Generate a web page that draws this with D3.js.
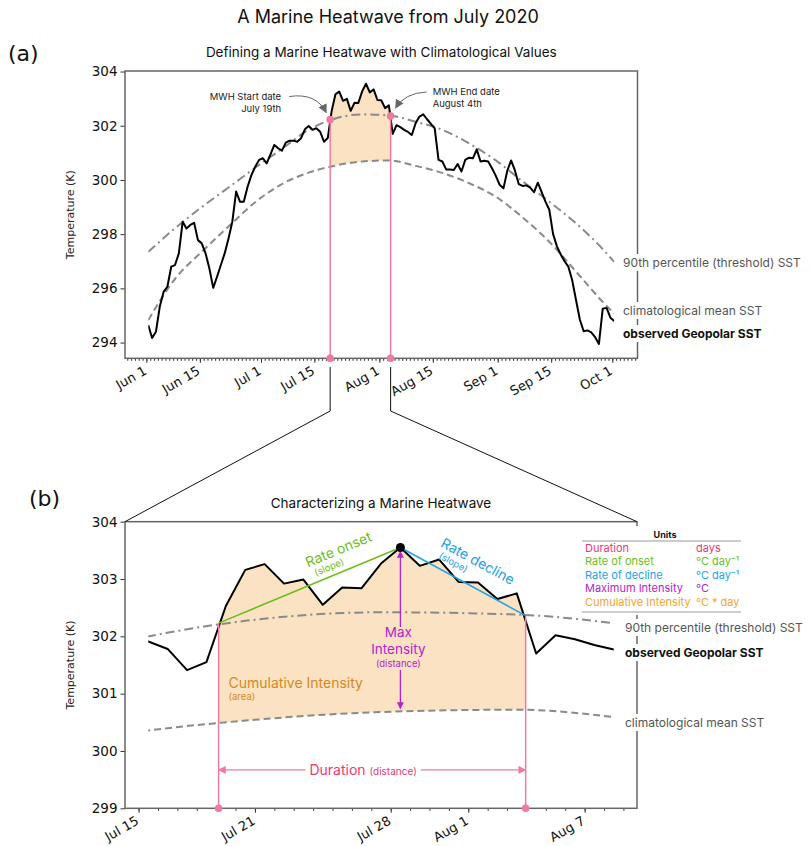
<!DOCTYPE html>
<html>
<head>
<meta charset="utf-8">
<script src="https://cdn.jsdelivr.net/npm/d3@7"></script>
<style>
  body { margin: 0; background: #fff; }
  text { font-family: Inter, "Noto Sans", sans-serif; }
  .mpl text, text.mpl { font-family: "DejaVu Sans", sans-serif; }
</style>
</head>
<body>
<div id="chart"></div>
<script>
// ---- data ----
// daily observed SST (K), noon values starting 1 June 2020
const obsStart = new Date(2020, 5, 1, 12);
const observed = [
  294.64, 294.17, 294.40, 295.32, 295.87, 296.06, 296.80, 296.86, 297.29, 298.46,
  298.21, 298.34, 298.42, 297.78, 297.66, 297.29, 296.73, 296.02, 296.43, 296.86,
  297.29, 297.84, 298.46, 299.57, 299.20, 299.20, 299.75, 300.18, 300.49, 300.74,
  300.80, 300.61, 300.94, 301.29, 301.17, 301.08, 301.38, 301.45, 301.45, 301.41,
  301.54, 301.87, 301.99, 301.85, 301.91, 301.78, 301.41, 301.55, 302.53, 303.16,
  303.26, 302.92, 302.99, 302.55, 302.85, 302.84, 303.27, 303.55, 303.23, 303.34,
  302.95, 302.94, 302.65, 302.75, 301.70, 302.02, 301.95, 301.85, 301.77, 301.66,
  302.09, 302.34, 302.42, 302.24, 302.07, 301.90, 300.74, 300.68, 300.39, 300.39,
  300.37, 300.59, 300.31, 300.74, 300.82, 300.80, 301.13, 300.68, 300.71, 300.68,
  300.43, 300.15, 299.82, 299.69, 300.34, 300.72, 300.35, 299.85, 299.78, 299.80,
  299.72, 299.55, 299.90, 299.55, 299.20, 298.90, 298.00, 297.55, 297.25, 297.00,
  296.80, 296.30, 295.57, 294.85, 294.42, 294.45, 294.38, 294.20, 293.95, 295.25,
  295.28, 294.92, 294.80
];

// climatology and 90th percentile threshold (K), weekly
const climDates = [
  "2020-06-01", "2020-06-08", "2020-06-15", "2020-06-22", "2020-06-29", "2020-07-06",
  "2020-07-13", "2020-07-20", "2020-07-27", "2020-08-03", "2020-08-10", "2020-08-17",
  "2020-08-24", "2020-08-31", "2020-09-07", "2020-09-14", "2020-09-21", "2020-09-28",
  "2020-10-01"
];
const climValues = [
  294.83, 296.35, 297.35, 298.28, 299.18, 299.85, 300.27, 300.53, 300.68, 300.72,
  300.52, 300.26, 299.88, 299.38, 298.62, 297.72, 296.62, 295.50, 295.07
];
const threshValues = [
  297.35, 298.22, 299.00, 299.72, 300.45, 301.15, 301.85, 302.27, 302.42, 302.38,
  302.15, 301.85, 301.35, 300.72, 299.95, 299.20, 298.40, 297.45, 296.98
];

// heatwave event (threshold crossings)
const eventStart = new Date(2020, 6, 19, 3);
const eventEnd = new Date(2020, 7, 3, 23);
const startValue = 302.23;
const endValue = 302.36;
const climAtMax = 300.74;
const durationLevel = 299.67;

// zoomed window of panel (b)
const zoomFirst = new Date(2020, 6, 15, 12);
const zoomLast = new Date(2020, 7, 8, 12);

// ticks
const topTicks = ["2020-06-01", "2020-06-15", "2020-07-01", "2020-07-15", "2020-08-01",
  "2020-08-15", "2020-09-01", "2020-09-15", "2020-10-01"];
const zoomTicks = ["2020-07-15", "2020-07-21", "2020-07-28", "2020-08-01", "2020-08-07"];
const topYTicks = [294, 296, 298, 300, 302, 304];
const zoomYTicks = [299, 300, 301, 302, 303, 304];
const topYDomain = [293.42, 304.02];
const zoomYDomain = [299, 304];

const unitRows = [
  ["Duration", "days", "#ec3a74"],
  ["Rate of onset", "°C day⁻¹", "#6cbd1c"],
  ["Rate of decline", "°C day⁻¹", "#1ea3e6"],
  ["Maximum Intensity", "°C", "#b325cc"],
  ["Cumulative Intensity", "°C * day", "#f5a42c"]
];

// ---- helpers ----
const parse = d3.timeParse("%Y-%m-%d");
const obs = observed.map((v, i) => ({ date: d3.timeDay.offset(obsStart, i), value: v }));
const clim = climDates.map((d, i) => ({ date: d3.timeHour.offset(parse(d), 12), value: climValues[i] }));
const thresh = climDates.map((d, i) => ({ date: d3.timeHour.offset(parse(d), 12), value: threshValues[i] }));
const maxIdx = d3.maxIndex(observed);
const maxPoint = obs[maxIdx];

const COL = {
  spine: "#666", obs: "#000", ref: "#8a8a8a", fill: "#fae2c3",
  pinkLine: "#f27aa1", pinkText: "#ec3a74", green: "#6cbd1c", blue: "#1ea3e6",
  purple: "#b325cc", cumul: "#d28a1e", label: "#555"
};

const svg = d3.select("#chart").append("svg")
  .attr("width", 811).attr("height", 846);

const defs = svg.append("defs");
function marker(id, color, size) {
  defs.append("marker")
    .attr("id", id)
    .attr("viewBox", "0 0 10 10")
    .attr("refX", 9).attr("refY", 5)
    .attr("markerWidth", size).attr("markerHeight", size)
    .attr("markerUnits", "userSpaceOnUse")
    .attr("orient", "auto-start-reverse")
    .append("path").attr("d", "M0,0 L10,5 L0,10 z").attr("fill", color);
}
marker("arrGrey", "#666", 9);
marker("arrPink", COL.pinkLine, 8);
marker("arrPurple", COL.purple, 7);

function labelWithBg(g, x, y, txt, opts) {
  const t = g.append("text")
    .attr("x", x).attr("y", y)
    .attr("font-size", opts.size || 12)
    .attr("font-weight", opts.weight || 400)
    .attr("fill", opts.color || "#222")
    .attr("text-anchor", opts.anchor || "start")
    .text(txt);
  const b = t.node().getBBox();
  g.insert("rect", () => t.node())
    .attr("x", b.x - 3).attr("y", b.y - 1)
    .attr("width", b.width + 6).attr("height", b.height + 2)
    .attr("fill", opts.bg || "#fff");
  return t;
}

// draws frame, axes and the three series; returns scales
function drawPanel(cfg) {
  const g = svg.append("g");
  const span = cfg.last - cfg.first;
  const x = d3.scaleTime()
    .domain([new Date(+cfg.first - span * 0.05), new Date(+cfg.last + span * 0.05)])
    .range([cfg.x0, cfg.x1]);
  const y = d3.scaleLinear().domain(cfg.yDomain).range([cfg.y1, cfg.y0]);

  const clipId = "clip" + cfg.id;
  defs.append("clipPath").attr("id", clipId).append("rect")
    .attr("x", x(cfg.first)).attr("y", cfg.y0)
    .attr("width", x(cfg.last) - x(cfg.first)).attr("height", cfg.y1 - cfg.y0);
  const fillClip = "fill" + cfg.id;
  defs.append("clipPath").attr("id", fillClip).append("rect")
    .attr("x", x(eventStart)).attr("y", cfg.y0)
    .attr("width", x(eventEnd) - x(eventStart)).attr("height", cfg.y1 - cfg.y0);

  const line = d3.line().x(d => x(d.date)).y(d => y(d.value));
  const smooth = d3.line().x(d => x(d.date)).y(d => y(d.value)).curve(d3.curveMonotoneX);

  // heatwave fill between observed and climatology
  const obsPath = line(obs);
  const climBack = smooth(clim.slice().reverse()).replace(/^M/, "L");
  g.append("path")
    .attr("clip-path", `url(#${fillClip})`)
    .attr("d", obsPath + climBack + "Z")
    .attr("fill", COL.fill);

  const series = g.append("g").attr("clip-path", `url(#${clipId})`);
  series.append("path").attr("d", smooth(thresh))
    .attr("fill", "none").attr("stroke", COL.ref).attr("stroke-width", 2)
    .attr("stroke-dasharray", "9,4,2,4");
  series.append("path").attr("d", smooth(clim))
    .attr("fill", "none").attr("stroke", COL.ref).attr("stroke-width", 2)
    .attr("stroke-dasharray", "7,4");
  series.append("path").attr("d", line(obs))
    .attr("fill", "none").attr("stroke", COL.obs).attr("stroke-width", 2)
    .attr("stroke-linejoin", "round");

  // axes
  const fmt = d3.timeFormat("%b %-d");
  const xMinor = g.append("g").attr("transform", `translate(0,${cfg.y1})`)
    .call(d3.axisBottom(x).ticks(d3.timeDay.every(1)).tickSize(2.5).tickFormat(""));
  const xMajor = g.append("g").attr("class", "mpl").attr("transform", `translate(0,${cfg.y1})`)
    .call(d3.axisBottom(x).tickValues(cfg.ticks.map(parse)).tickSize(4.5).tickFormat(fmt));
  [xMinor, xMajor].forEach(a => {
    a.select(".domain").remove();
    a.selectAll("line").attr("stroke", "#333").attr("stroke-width", 1);
  });
  xMajor.selectAll("text")
    .attr("font-size", 13).attr("fill", "#111")
    .attr("text-anchor", "end")
    .attr("y", 0).attr("dy", "0.72em")
    .attr("transform", "translate(-4,7) rotate(-30)");

  const yAx = g.append("g").attr("class", "mpl").attr("transform", `translate(${cfg.x0},0)`)
    .call(d3.axisLeft(y).tickValues(cfg.yTicks).tickSize(4.5).tickPadding(3).tickFormat(d3.format("d")));
  yAx.select(".domain").remove();
  yAx.selectAll("line").attr("stroke", "#333");
  yAx.selectAll("text").attr("font-size", 13.5).attr("fill", "#111");

  g.append("text").attr("class", "mpl")
    .attr("transform", `translate(${cfg.x0 - 51},${(cfg.y0 + cfg.y1) / 2}) rotate(-90)`)
    .attr("text-anchor", "middle")
    .attr("font-size", 11).attr("fill", "#222")
    .text("Temperature (K)");

  // frame
  g.append("rect")
    .attr("x", cfg.x0).attr("y", cfg.y0)
    .attr("width", cfg.x1 - cfg.x0).attr("height", cfg.y1 - cfg.y0)
    .attr("fill", "none").attr("stroke", COL.spine).attr("stroke-width", 1.5);

  g.append("text")
    .attr("x", (cfg.x0 + cfg.x1) / 2).attr("y", cfg.y0 - 14)
    .attr("text-anchor", "middle").attr("font-size", 13.5).attr("fill", "#111")
    .text(cfg.title);

  return { g, x, y };
}

// ---- titles ----
svg.append("text").attr("x", 388).attr("y", 23)
  .attr("text-anchor", "middle").attr("font-size", 18).attr("fill", "#111")
  .text("A Marine Heatwave from July 2020");
svg.append("text").attr("class", "mpl").attr("x", 8).attr("y", 61)
  .attr("font-size", 22).attr("fill", "#111").text("(a)");
svg.append("text").attr("class", "mpl").attr("x", 29).attr("y", 506)
  .attr("font-size", 22).attr("fill", "#111").text("(b)");

// ---- panel (a) ----
const A = drawPanel({
  id: "a", first: obs[0].date, last: obs[obs.length - 1].date,
  x0: 125, x1: 637.5, y0: 71, y1: 358.3,
  yDomain: topYDomain, ticks: topTicks, yTicks: topYTicks,
  title: "Defining a Marine Heatwave with Climatological Values"
});

[[eventStart, startValue], [eventEnd, endValue]].forEach(([d, v]) => {
  A.g.append("line")
    .attr("x1", A.x(d)).attr("x2", A.x(d))
    .attr("y1", A.y(v)).attr("y2", A.y(topYDomain[0]))
    .attr("stroke", COL.pinkLine).attr("stroke-width", 1.5);
  [v, topYDomain[0]].forEach(val => {
    A.g.append("circle").attr("cx", A.x(d)).attr("cy", A.y(val))
      .attr("r", 3.8).attr("fill", COL.pinkLine);
  });
});

// start / end annotations
const S = [A.x(eventStart), A.y(startValue)];
const E = [A.x(eventEnd), A.y(endValue)];
const startTxt = A.g.append("text").attr("text-anchor", "end")
  .attr("font-size", 9.5).attr("fill", "#222");
startTxt.append("tspan").attr("x", S[0] - 49).attr("y", S[1] - 19.5).text("MWH Start date");
startTxt.append("tspan").attr("x", S[0] - 49).attr("y", S[1] - 7.5).text("July 19th");
A.g.append("path")
  .attr("d", `M${S[0] - 41},${S[1] - 23} Q${S[0] - 14},${S[1] - 27} ${S[0] - 4},${S[1] - 7}`)
  .attr("fill", "none").attr("stroke", "#666").attr("stroke-width", 1)
  .attr("marker-end", "url(#arrGrey)");
const endTxt = A.g.append("text").attr("font-size", 9.5).attr("fill", "#222");
endTxt.append("tspan").attr("x", E[0] + 42).attr("y", E[1] - 20.5).text("MWH End date");
endTxt.append("tspan").attr("x", E[0] + 42).attr("y", E[1] - 8.5).text("August 4th");
A.g.append("path")
  .attr("d", `M${E[0] + 36},${E[1] - 24} Q${E[0] + 14},${E[1] - 23} ${E[0] + 5},${E[1] - 8}`)
  .attr("fill", "none").attr("stroke", "#666").attr("stroke-width", 1)
  .attr("marker-end", "url(#arrGrey)");

labelWithBg(A.g, 623, 267, "90th percentile (threshold) SST", { color: COL.label });
labelWithBg(A.g, 623, 315, "climatological mean SST", { color: COL.label });
labelWithBg(A.g, 623, 338, "observed Geopolar SST", { color: "#111", weight: 700 });

// ---- panel (b) ----
const B = drawPanel({
  id: "b", first: zoomFirst, last: zoomLast,
  x0: 125, x1: 637, y0: 521.7, y1: 808.3,
  yDomain: zoomYDomain, ticks: zoomTicks, yTicks: zoomYTicks,
  title: "Characterizing a Marine Heatwave"
});

// connectors between panels
[[eventStart, B.x.range()[0]], [eventEnd, B.x.range()[1]]].forEach(([d, bx]) => {
  svg.append("polyline")
    .attr("points", `${A.x(d)},367 ${A.x(d)},411 ${bx},521.7`)
    .attr("fill", "none").attr("stroke", "#111").attr("stroke-width", 1);
});

const bs = [B.x(eventStart), B.y(startValue)];
const be = [B.x(eventEnd), B.y(endValue)];
const bm = [B.x(maxPoint.date), B.y(maxPoint.value)];

// pink duration verticals
[bs, be].forEach(p => {
  B.g.append("line").attr("x1", p[0]).attr("x2", p[0])
    .attr("y1", p[1]).attr("y2", B.y(zoomYDomain[0]))
    .attr("stroke", COL.pinkLine).attr("stroke-width", 1.5);
  B.g.append("circle").attr("cx", p[0]).attr("cy", B.y(zoomYDomain[0]))
    .attr("r", 3.8).attr("fill", COL.pinkLine);
});

// rate lines
B.g.append("line").attr("x1", bs[0]).attr("y1", bs[1]).attr("x2", bm[0]).attr("y2", bm[1])
  .attr("stroke", COL.green).attr("stroke-width", 1.5);
B.g.append("line").attr("x1", bm[0]).attr("y1", bm[1]).attr("x2", be[0]).attr("y2", be[1])
  .attr("stroke", COL.blue).attr("stroke-width", 1.5);

function slopeLabel(p0, p1, t, main, u0, v0, color) {
  const ang = Math.atan2(p1[1] - p0[1], p1[0] - p0[0]) * 180 / Math.PI;
  const px = p0[0] + (p1[0] - p0[0]) * t, py = p0[1] + (p1[1] - p0[1]) * t;
  const lg = B.g.append("g").attr("transform", `translate(${px},${py}) rotate(${ang})`);
  lg.append("text").attr("x", u0).attr("y", v0).attr("font-size", 14).attr("fill", color).text(main);
  lg.append("text").attr("x", u0 + 4).attr("y", v0 + 11).attr("font-size", 9.5).attr("fill", color).text("(slope)");
}
slopeLabel(bs, bm, 0.66, "Rate onset", -26, -17, COL.green);
slopeLabel(bm, be, 0.61, "Rate decline", -53, -20, COL.blue);

// max intensity
B.g.append("line").attr("x1", bm[0]).attr("x2", bm[0])
  .attr("y1", bm[1] + 4).attr("y2", B.y(climAtMax))
  .attr("stroke", COL.purple).attr("stroke-width", 1.3)
  .attr("marker-start", "url(#arrPurple)").attr("marker-end", "url(#arrPurple)");
B.g.append("rect").attr("x", bm[0] - 40).attr("y", 627)
  .attr("width", 80).attr("height", 43).attr("fill", COL.fill);
[["Max", 637, 13.5], ["Intensity", 653.5, 13.5], ["(distance)", 667, 9.5]].forEach(([t, yy, fs]) => {
  B.g.append("text").attr("x", bm[0] - 2).attr("y", yy)
    .attr("text-anchor", "middle").attr("font-size", fs).attr("fill", COL.purple).text(t);
});
B.g.append("circle").attr("cx", bm[0]).attr("cy", bm[1]).attr("r", 4.5).attr("fill", "#000");

// cumulative intensity
B.g.append("text").attr("x", bs[0] + 10).attr("y", 688)
  .attr("font-size", 14).attr("fill", COL.cumul).text("Cumulative Intensity");
B.g.append("text").attr("x", bs[0] + 10).attr("y", 700)
  .attr("font-size", 9.5).attr("fill", COL.cumul).text("(area)");

// duration
const dy = B.y(durationLevel);
B.g.append("line").attr("x1", bs[0]).attr("x2", be[0]).attr("y1", dy).attr("y2", dy)
  .attr("stroke", COL.pinkLine).attr("stroke-width", 1.3)
  .attr("marker-start", "url(#arrPink)").attr("marker-end", "url(#arrPink)");
const durT = B.g.append("text").attr("x", (bs[0] + be[0]) / 2 - 9).attr("y", dy + 5)
  .attr("text-anchor", "middle").attr("fill", COL.pinkText);
durT.append("tspan").attr("font-size", 14).text("Duration ");
durT.append("tspan").attr("font-size", 10).text("(distance)");
const db = durT.node().getBBox();
B.g.insert("rect", () => durT.node())
  .attr("x", db.x - 4).attr("y", db.y).attr("width", db.width + 8).attr("height", db.height)
  .attr("fill", "#fff");

labelWithBg(B.g, 625, 632, "90th percentile (threshold) SST", { color: COL.label });
labelWithBg(B.g, 625, 657, "observed Geopolar SST", { color: "#111", weight: 700 });
labelWithBg(B.g, 625, 727, "climatological mean SST", { color: COL.label });

// units table
const tb = B.g.append("g");
tb.append("rect").attr("x", 578).attr("y", 526).attr("width", 168).attr("height", 89).attr("fill", "#fff");
tb.append("text").attr("x", 665).attr("y", 538).attr("text-anchor", "middle")
  .attr("font-size", 9).attr("font-weight", 700).attr("fill", "#111").text("Units");
[541, 612].forEach(yy => tb.append("line").attr("x1", 582).attr("x2", 741)
  .attr("y1", yy).attr("y2", yy).attr("stroke", "#999").attr("stroke-width", 1.2));
unitRows.forEach((r, i) => {
  const yy = 552 + i * 13.4;
  tb.append("text").attr("x", 585).attr("y", yy).attr("font-size", 11).attr("fill", r[2]).text(r[0]);
  tb.append("text").attr("x", 696).attr("y", yy).attr("font-size", 11).attr("fill", r[2]).text(r[1]);
});
</script>
</body>
</html>
